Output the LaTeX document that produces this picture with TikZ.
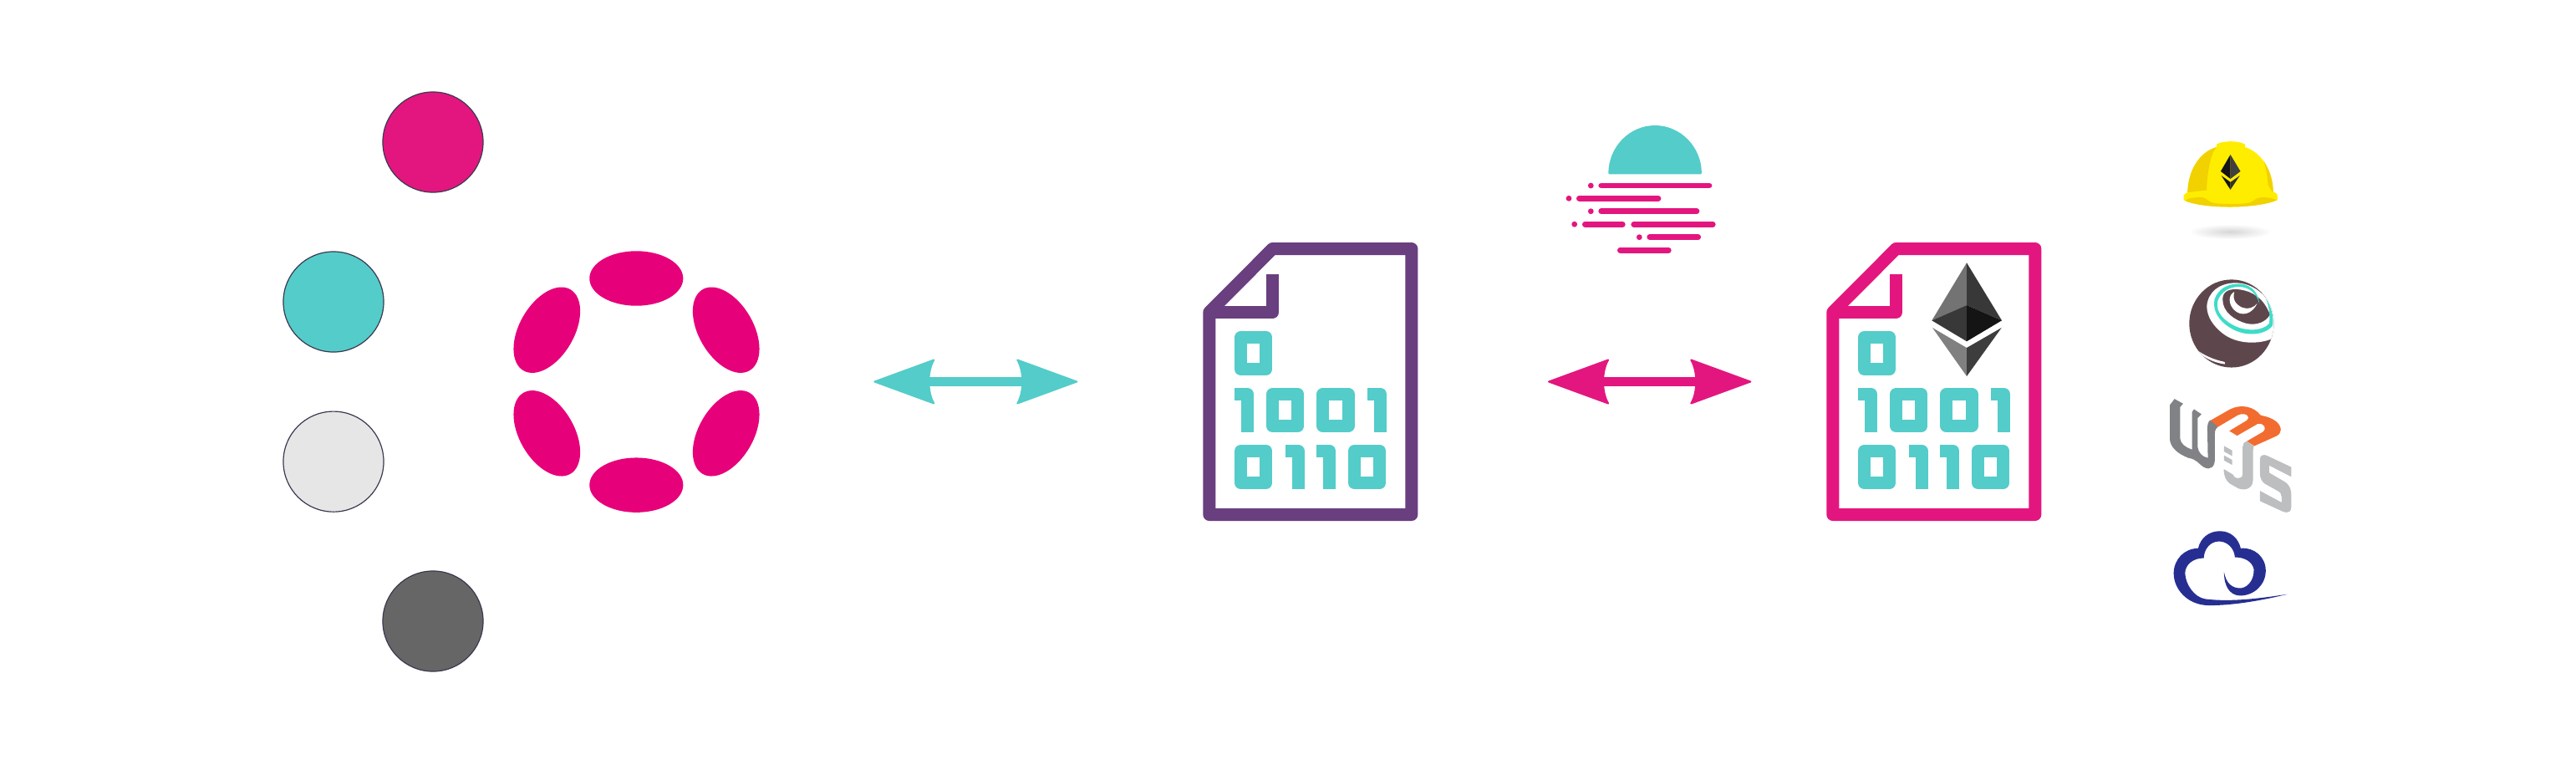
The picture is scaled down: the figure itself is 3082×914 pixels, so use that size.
\documentclass[tikz,border=0pt]{standalone}
\usepackage{xcolor}
\usepackage{tikz}
\usetikzlibrary{shapes,arrows.meta,positioning}

\definecolor{dotpink}{HTML}{E3167F}
\definecolor{dotteal}{HTML}{54CCC9}
\definecolor{dotlight}{HTML}{E6E6E6}
\definecolor{dotdark}{HTML}{666666}
\definecolor{dotline}{HTML}{3A3A50}
\definecolor{polkapink}{HTML}{E6007A}
\definecolor{filepurple}{HTML}{693F7F}
\definecolor{hatyellow}{HTML}{FFED00}
\definecolor{hatshade}{HTML}{F1D100}
\definecolor{ballbrown}{HTML}{5E474C}
\definecolor{ballteal}{HTML}{3EDCC8}
\definecolor{wgray}{HTML}{808285}
\definecolor{jgray}{HTML}{BCBEC0}
\definecolor{morange}{HTML}{F36C2F}
\definecolor{cloudblue}{HTML}{262F91}

\pgfdeclarearrow{
    name=FlowTip,
    setup code={
        \pgfarrowssettipend{0pt}
        \pgfarrowssetbackend{-0.73cm}
        \pgfarrowssetlineend{-0.64cm}
    },
    drawing code={
        \pgfsetlinewidth{0.02cm}
        \pgfsetroundjoin
        \pgfpathmoveto{\pgfqpoint{-0.01cm}{0pt}}
        \pgfpathlineto{\pgfpoint{-0.72cm}{0.26cm}}
        \pgfpathcurveto{\pgfpoint{-0.68cm}{0.19cm}}{\pgfpoint{-0.66cm}{0.10cm}}{\pgfpoint{-0.66cm}{0cm}}
        \pgfpathcurveto{\pgfpoint{-0.66cm}{-0.10cm}}{\pgfpoint{-0.68cm}{-0.19cm}}{\pgfpoint{-0.72cm}{-0.26cm}}
        \pgfpathclose
        \pgfusepathqfillstroke
    }
}

\begin{document}
\begin{tikzpicture}[
    x=0.01cm, y=-0.01cm,
    chaindot/.style={circle, draw=dotline, line width=0.012cm, minimum size=1.2cm, inner sep=0pt, outer sep=0pt},
    polka/.style={ellipse, fill=polkapink, minimum width=1.12cm, minimum height=0.654cm, inner sep=0pt, outer sep=0pt},
    flow/.style={<->, line width=0.107cm, draw=#1, >={FlowTip}},
    bit/.style={draw=dotteal, line width=0.15cm, line join=round},
    fileline/.style={draw=#1, line width=0.15cm, line join=round},
    sunbar/.style={draw=dotpink, line width=0.0667cm, line cap=round},
    pics/zerobit/.style={code={\draw[bit] (7.5,7.5) rectangle (37.8,45.5);}},
    pics/onebit/.style={code={\draw[bit] (0,7.5) -- (15.5,7.5) -- (15.5,53);}},
    pics/binfile/.style={code={
        \draw[fileline=#1] (0,76) -- (75.7,0) -- (242,0) -- (242,318) -- (0,318) -- cycle;
        \draw[fileline=#1] (75.7,30.5) -- (75.7,76) -- (0,76);
        \foreach \dx/\dy in {30.2/98.5, 68.2/166.5, 128.5/166.5, 30.2/234.5, 166.2/234.5}
            \pic at (\dx,\dy) {zerobit};
        \foreach \dx/\dy in {30.2/166.5, 189.2/166.5, 90.9/234.5, 128.5/234.5}
            \pic at (\dx,\dy) {onebit};
    }}
]
\useasboundingbox (0,0) rectangle (3082,914);

\node[chaindot, fill=dotteal] (tealdot) at (399,361) {};
\node[chaindot, fill=dotlight, below=0.71cm of tealdot] (lightdot) {};
\node[chaindot, fill=dotpink] (pinkdot) at (518,170) {};
\node[chaindot, fill=dotdark] (darkdot) at (518,743) {};

\node[polka] (polkatop) at (761.3,333) {};
\node[polka, below=1.816cm of polkatop] (polkabottom) {};
\node[polka, rotate=60] (polkaul) at (654.3,394.7) {};
\node[polka, rotate=-60] (polkaur) at (868.7,394.7) {};
\node[polka, rotate=-60] (polkall) at (654.3,518.3) {};
\node[polka, rotate=60] (polkalr) at (868.7,518.3) {};

\coordinate (tealleft) at (1045.3,456.5);
\coordinate (tealright) at (1289.3,456.5);
\coordinate (pinkleft) at (1852,456.5);
\coordinate (pinkright) at (2095.3,456.5);
\draw[flow=dotteal] (tealleft) -- (tealright);
\draw[flow=dotpink] (pinkleft) -- (pinkright);

\pic at (1446.8,297.5) {binfile=filepurple};
\pic at (2192.8,297.5) {binfile=dotpink};

\fill[black!55] (2353,314.3) -- (2311.3,383.3) -- (2353,365) -- cycle;
\fill[black!78] (2353,314.3) -- (2395,383.3) -- (2353,365) -- cycle;
\fill[black!78] (2311.3,383.3) -- (2353,365) -- (2353,408.3) -- cycle;
\fill[black!92] (2395,383.3) -- (2353,365) -- (2353,408.3) -- cycle;
\fill[black!50] (2312,392) -- (2353,416) -- (2353,450) -- cycle;
\fill[black!76] (2394.7,392) -- (2353,416) -- (2353,450) -- cycle;

\fill[dotteal, rounded corners=0.01cm] (1924.3,208.3) arc[start angle=180, end angle=360, x radius=55.8, y radius=58.3] -- cycle;
\foreach \x/\y in {1903.3/222, 1877/237.3, 1903.3/252.7, 1883.7/268.2, 1961.3/283.7}
    \fill[dotpink] (\x,\y) circle[radius=3.4];
\foreach \xa/\xb/\y in {1915.7/2045/222, 1889.3/1984/237.3, 1915.7/2030/252.7, 1896.3/1941.3/268.2, 1954.7/2049.3/268.2, 1973.7/2031.7/283.7, 1938.3/1996.3/299.2}
    \draw[sunbar] (\xa,\y) -- (\xb,\y);

\begin{scope}[shift={(2580,150)}, x=0.003333cm, y=-0.003333cm]
\shade[inner color=black!16, outer color=white] (265,382) ellipse[x radius=150, y radius=27];
\fill[hatyellow] (112,245) .. controls (112,160) and (157,95) .. (216,78) -- (216,68) .. controls (238,54) and (296,54) .. (318,68) -- (318,78) .. controls (375,95) and (420,160) .. (420,245) -- cycle;
\fill[hatshade] (112,245) .. controls (112,160) and (157,95) .. (216,78) -- (205,95) .. controls (190,130) and (182,180) .. (180,240) -- cycle;
\begin{scope}
\clip (318,78) .. controls (375,95) and (420,160) .. (420,245) -- cycle;
\fill[hatshade] (372,95) .. controls (392,135) and (404,190) .. (400,245) -- (430,245) -- (430,95) -- cycle;
\end{scope}
\fill[hatyellow] (98,252) .. controls (99,247) and (105,243) .. (112,241) -- (180,233) -- (400,238) -- (425,241) .. controls (431,243) and (435,247) .. (435,252) -- (435,268) .. controls (400,285) and (320,293) .. (265,293) .. controls (200,293) and (130,285) .. (98,268) -- cycle;
\fill[hatshade] (102,270) .. controls (120,258) and (165,253) .. (180,265) .. controls (195,280) and (215,282) .. (265,282) .. controls (320,282) and (340,280) .. (352,268) .. controls (370,253) and (410,258) .. (433,268) .. controls (400,285) and (320,293) .. (265,293) .. controls (200,293) and (130,285) .. (102,270) -- cycle;
\fill[black!92] (266,105) -- (231,165) -- (266,192) -- cycle;
\fill[black!75] (266,105) -- (302,165) -- (266,192) -- cycle;
\fill[black!92] (233,180) -- (266,204) -- (266,231) -- cycle;
\fill[black!80] (300,180) -- (266,204) -- (266,231) -- cycle;

\fill[ballbrown] (270,712) ellipse[x radius=152, y radius=158];
\begin{scope}
\clip (270,712) ellipse[x radius=152, y radius=158];
\fill[white] (181,650) .. controls (185,600) and (225,566) .. (285,566) .. controls (345,566) and (405,610) .. (425,680) -- (430,735) -- (412,768) .. controls (370,785) and (290,790) .. (235,745) .. controls (205,720) and (182,690) .. (181,650) -- cycle;
\fill[ballbrown] (238,625) .. controls (238,595) and (265,585) .. (300,590) .. controls (345,597) and (385,620) .. (408,680) .. controls (395,705) and (360,720) .. (325,712) .. controls (280,700) and (238,670) .. (238,625) -- cycle;
\fill[white] (280,598) .. controls (258,610) and (258,640) .. (278,662) .. controls (305,690) and (345,678) .. (362,640) .. controls (350,655) and (330,662) .. (310,655) .. controls (285,645) and (272,625) .. (280,598) -- cycle;
\fill[ballteal] (393,622) .. controls (412,650) and (424,690) .. (417,720) .. controls (390,755) and (320,760) .. (270,730) .. controls (225,705) and (200,665) .. (209,625) .. controls (222,585) and (262,566) .. (305,570) .. controls (345,575) and (368,605) .. (370,642) .. controls (362,605) and (335,582) .. (300,580) .. controls (262,578) and (228,600) .. (219,635) .. controls (214,670) and (240,700) .. (280,720) .. controls (325,742) and (385,738) .. (405,712) .. controls (410,685) and (405,650) .. (393,622) -- cycle;
\fill[white] (135,800) .. controls (165,832) and (200,852) .. (247,858) -- (245,850) .. controls (205,842) and (170,826) .. (135,800) -- cycle;
\end{scope}

\begin{scope}[shift={(0,930)}]
\fill[wgray] (48,75) -- (65,53) -- (96,70) -- (85,82) -- (85,195) .. controls (87,212) and (100,225) .. (128,235) -- (128,100) -- (135,90) -- (162,108) -- (148,122) -- (148,225) .. controls (150,245) and (165,262) .. (185,265) -- (183,160) .. controls (183,145) and (186,135) .. (193,129) -- (225,150) .. controls (214,158) and (210,165) .. (210,178) -- (210,270) .. controls (210,295) and (195,312) .. (170,298) .. controls (150,285) and (145,270) .. (115,265) .. controls (75,250) and (48,225) .. (48,195) -- cycle;
\fill[morange] (195,130) -- (265,90) .. controls (305,70) and (350,80) .. (375,112) .. controls (420,120) and (447,140) .. (447,165) .. controls (447,175) and (440,182) .. (430,187) -- (352,222) -- (325,205) -- (385,170) .. controls (395,160) and (390,140) .. (365,142) -- (290,185) -- (262,168) -- (325,130) .. controls (340,120) and (325,100) .. (295,110) -- (222,153) -- cycle;
\fill[jgray] (325,205) -- (350,222) -- (347,240) -- (347,345) .. controls (347,370) and (325,385) .. (295,375) -- (265,358) .. controls (250,348) and (242,330) .. (242,305) -- (275,325) .. controls (278,340) and (305,345) .. (310,325) -- (310,225) .. controls (310,215) and (315,208) .. (325,205) -- cycle;
\fill[jgray] (243,222) -- (272,238) -- (272,258) -- (243,242) -- cycle;
\fill[jgray] (243,256) -- (272,272) -- (272,290) -- (243,274) -- cycle;
\fill[jgray] (372,270) .. controls (372,255) and (385,250) .. (400,258) -- (485,298) -- (485,333) -- (405,292) -- (405,318) -- (460,350) .. controls (480,362) and (485,380) .. (485,400) -- (485,440) .. controls (485,458) and (475,465) .. (455,458) -- (372,420) -- (372,383) -- (450,425) -- (450,405) .. controls (450,395) and (445,388) .. (435,383) -- (390,358) .. controls (378,350) and (372,335) .. (372,320) -- cycle;
\fill[cloudblue] (150,590) .. controls (158,552) and (190,528) .. (228,528) .. controls (268,528) and (295,555) .. (303,590) .. controls (350,585) and (393,620) .. (393,670) .. controls (393,720) and (352,760) .. (300,760) .. controls (262,758) and (243,725) .. (243,675) .. controls (250,715) and (272,735) .. (305,733) .. controls (335,728) and (352,695) .. (350,665) .. controls (345,640) and (320,622) .. (282,622) .. controls (280,590) and (255,565) .. (225,565) .. controls (195,565) and (172,590) .. (170,625) .. controls (130,625) and (103,650) .. (103,680) .. controls (105,720) and (135,765) .. (175,772) .. controls (280,785) and (400,765) .. (470,755) .. controls (400,772) and (290,795) .. (190,795) .. controls (110,795) and (62,735) .. (62,680) .. controls (62,630) and (100,590) .. (150,590) -- cycle;
\end{scope}
\end{scope}
\end{tikzpicture}
\end{document}
